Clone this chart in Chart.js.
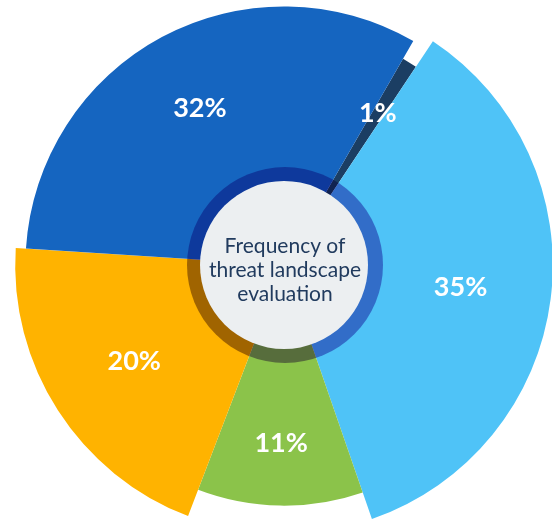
<!DOCTYPE html>
<html>
<head>
<meta charset="utf-8">
<script src="https://cdn.jsdelivr.net/npm/chart.js@4.4.1/dist/chart.umd.min.js"></script>
<style>
  html, body { margin: 0; padding: 0; background: #fff; }
  #wrap { position: relative; width: 552px; height: 521px; }
</style>
</head>
<body>
<div id="wrap"><canvas id="threatChart"></canvas></div>
<script>
// Frequency of threat landscape evaluation
const shares = [1, 35, 11, 20, 32];            // percent of respondents
const shareLabels = shares.map(v => v + '%');
const reach = [93, 105, 94, 105, 101];         // outer extent of each wedge (r scale 0-100)
const centerLines = ['Frequency of', 'threat landscape', 'evaluation'];

const fills = ['#1b3e63', '#4fc3f7', '#8bc34a', '#ffb300', '#1565c0'];
const total = shares.reduce((a, b) => a + b, 0);

// grey badge in the middle with a tinted ring and the slice percentages
const centerBadge = {
  id: 'centerBadge',
  afterDatasetsDraw(chart) {
    const { ctx } = chart;
    const r = chart.scales.r;
    const cx = r.xCenter, cy = r.yCenter;

    ctx.save();
    ctx.globalCompositeOperation = 'multiply';
    ctx.fillStyle = 'rgb(160,142,207)';
    ctx.beginPath();
    ctx.arc(cx + 1, cy, 98, 0, Math.PI * 2);
    ctx.fill();
    ctx.restore();

    ctx.save();
    ctx.fillStyle = '#eceff1';
    ctx.beginPath();
    ctx.arc(cx, cy, 84, 0, Math.PI * 2);
    ctx.fill();

    ctx.fillStyle = '#213b5e';
    ctx.font = '21px Lato';
    ctx.textAlign = 'center';
    ctx.textBaseline = 'middle';
    centerLines.forEach((line, i) => {
      ctx.fillText(line, cx + 1, cy - 19 + i * 24);
    });

    ctx.fillStyle = '#ffffff';
    ctx.font = 'bold 27px Lato';
    chart.getDatasetMeta(0).data.forEach((arc, i) => {
      const mid = (arc.startAngle + arc.endAngle) / 2;
      const x = arc.x + Math.cos(mid) * 178;
      const y = arc.y + Math.sin(mid) * 178;
      ctx.fillText(shareLabels[i], x, y);
    });
    ctx.restore();
  }
};

new Chart(document.getElementById('threatChart'), {
  type: 'polarArea',
  data: {
    labels: shareLabels,
    datasets: [{
      data: reach,
      backgroundColor: fills,
      borderWidth: 0,
      angle: ctx => shares[ctx.dataIndex] * 360 / total,
      clip: false
    }]
  },
  options: {
    responsive: true,
    maintainAspectRatio: false,
    animation: false,
    layout: { padding: { left: 16, top: 9, right: 0, bottom: 0 } },
    plugins: {
      legend: { display: false },
      tooltip: { enabled: false }
    },
    scales: {
      r: {
        min: 0,
        max: 100,
        startAngle: 30,
        ticks: { display: false },
        grid: { display: false },
        angleLines: { display: false },
        pointLabels: { display: false }
      }
    }
  },
  plugins: [centerBadge]
});
</script>
</body>
</html>
